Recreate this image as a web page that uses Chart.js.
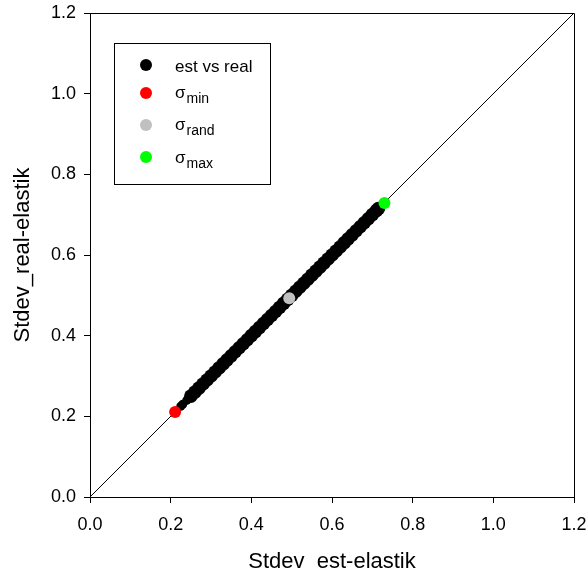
<!DOCTYPE html>
<html>
<head>
<meta charset="utf-8">
<script src="https://cdn.jsdelivr.net/npm/chart.js@4.4.1/dist/chart.umd.min.js"></script>
<style>
html,body{margin:0;padding:0;background:#fff;}
#wrap{width:587px;height:576px;position:relative;}
</style>
</head>
<body>
<div id="wrap"><canvas id="c" width="587" height="576"></canvas></div>
<script>
// ---- data ----
const estX  = [0.225,0.23,0.24,0.25,0.26,0.27,0.28,0.29,0.30,0.31,0.32,0.33,0.34,0.35,0.36,0.37,0.38,0.39,0.40,0.41,0.42,0.43,0.44,0.45,0.46,0.47,0.48,0.49,0.50,0.51,0.52,0.53,0.54,0.55,0.56,0.57,0.58,0.59,0.60,0.61,0.62,0.63,0.64,0.65,0.66,0.67,0.68,0.69,0.70,0.71,0.715];
const realY = [0.225,0.23,0.24,0.25,0.26,0.27,0.28,0.29,0.30,0.31,0.32,0.33,0.34,0.35,0.36,0.37,0.38,0.39,0.40,0.41,0.42,0.43,0.44,0.45,0.46,0.47,0.48,0.49,0.50,0.51,0.52,0.53,0.54,0.55,0.56,0.57,0.58,0.59,0.60,0.61,0.62,0.63,0.64,0.65,0.66,0.67,0.68,0.69,0.70,0.71,0.715];
const sigmaMin  = {x:0.211, y:0.211};
const sigmaRand = {x:0.494, y:0.493};
const sigmaMax  = {x:0.730, y:0.729};
const diagLine  = [{x:0, y:0}, {x:1.2, y:1.2}];
const tickValues = [0.0,0.2,0.4,0.6,0.8,1.0,1.2];
const xTitle = 'Stdev  est-elastik';
const yTitle = 'Stdev_real-elastik';
const legendItems = [
  {main:'est vs real', sub:'', color:'#000000'},
  {main:'\u03C3', sub:'min', color:'#ff0000'},
  {main:'\u03C3', sub:'rand', color:'#c0c0c0'},
  {main:'\u03C3', sub:'max', color:'#00ff00'}
];

const FONT = '"Liberation Sans", Arial, sans-serif';
const black = estX.map((x,i)=>({x:x, y:realY[i]}));

const framePlugin = {
  id:'frame',
  afterDraw(chart){
    const ctx = chart.ctx, a = chart.chartArea;
    ctx.save();
    ctx.strokeStyle = '#000'; ctx.lineWidth = 1;
    ctx.beginPath();
    ctx.moveTo(Math.round(a.left)+0.5, Math.round(a.top)+0.5);
    ctx.lineTo(Math.round(a.right)+0.5, Math.round(a.top)+0.5);
    ctx.lineTo(Math.round(a.right)+0.5, Math.round(a.bottom)+0.5);
    ctx.stroke();
    // legend
    const bx = a.left + 24, by = a.top + 30, bw = 156, bh = 141;
    ctx.fillStyle = '#fff';
    ctx.fillRect(bx, by, bw, bh);
    ctx.strokeRect(Math.round(bx)+0.5, Math.round(by)+0.5, bw, bh);
    const rowsMarker = [22, 50, 82, 114];
    const rowsBase = [29, 55, 87, 120];
    legendItems.forEach((it, i) => {
      ctx.beginPath();
      ctx.fillStyle = it.color;
      ctx.arc(bx + 32, by + rowsMarker[i], 6, 0, Math.PI*2);
      ctx.fill();
      ctx.fillStyle = '#000';
      ctx.textAlign = 'left';
      ctx.textBaseline = 'alphabetic';
      ctx.font = '17px ' + FONT;
      const tx = bx + 61;
      ctx.fillText(it.main, tx, by + rowsBase[i]);
      if (it.sub) {
        const w = ctx.measureText(it.main).width;
        ctx.font = '14px ' + FONT;
        ctx.fillText(it.sub, tx + w + 1, by + rowsBase[i] + 5);
      }
    });
    ctx.restore();
  }
};

const tickFmt = v => Number(v).toFixed(1);

new Chart(document.getElementById('c'), {
  type:'scatter',
  data:{
    datasets:[
      {type:'line', data:diagLine, borderColor:'#000', borderWidth:1, pointRadius:0, showLine:true, fill:false, order:10},
      {data:black, backgroundColor:'#000', borderWidth:0, pointRadius:estX.map(x=> x<0.25?4.5:6.8), order:5},
      {data:[sigmaMin], backgroundColor:'#ff0000', borderWidth:0, pointRadius:6, order:1},
      {data:[sigmaRand], backgroundColor:'#c0c0c0', borderWidth:0, pointRadius:6, order:1},
      {data:[sigmaMax], backgroundColor:'#00ff00', borderWidth:0, pointRadius:6, order:1}
    ]
  },
  options:{
    responsive:false,
    animation:false,
    events:[],
    layout:{padding:{left:0, top:13, right:13, bottom:0}},
    plugins:{legend:{display:false}, tooltip:{enabled:false}},
    scales:{
      x:{
        type:'linear', min:0, max:1.2,
        afterBuildTicks(s){ s.ticks = tickValues.map(v=>({value:v})); },
        afterFit(s){ s.height = 79; s.paddingLeft = 0; s.paddingRight = 0; },
        ticks:{callback:tickFmt, font:{family:FONT, size:18}, color:'#000', padding:11, maxRotation:0},
        grid:{drawOnChartArea:false, drawTicks:true, tickLength:6, color:'#000'},
        border:{display:true, color:'#000', width:1},
        title:{display:true, text:xTitle, font:{family:FONT, size:22}, color:'#000', padding:{top:0,bottom:1}}
      },
      y:{
        type:'linear', min:0, max:1.2,
        afterBuildTicks(s){ s.ticks = tickValues.map(v=>({value:v})); },
        afterFit(s){ s.width = 90; s.paddingTop = 0; s.paddingBottom = 0; },
        ticks:{callback:tickFmt, font:{family:FONT, size:18}, color:'#000', padding:8},
        grid:{drawOnChartArea:false, drawTicks:true, tickLength:6, color:'#000'},
        border:{display:true, color:'#000', width:1},
        title:{display:true, text:yTitle, font:{family:FONT, size:22}, color:'#000', padding:{top:10,bottom:0}}
      }
    }
  },
  plugins:[framePlugin]
});
</script>
</body>
</html>
